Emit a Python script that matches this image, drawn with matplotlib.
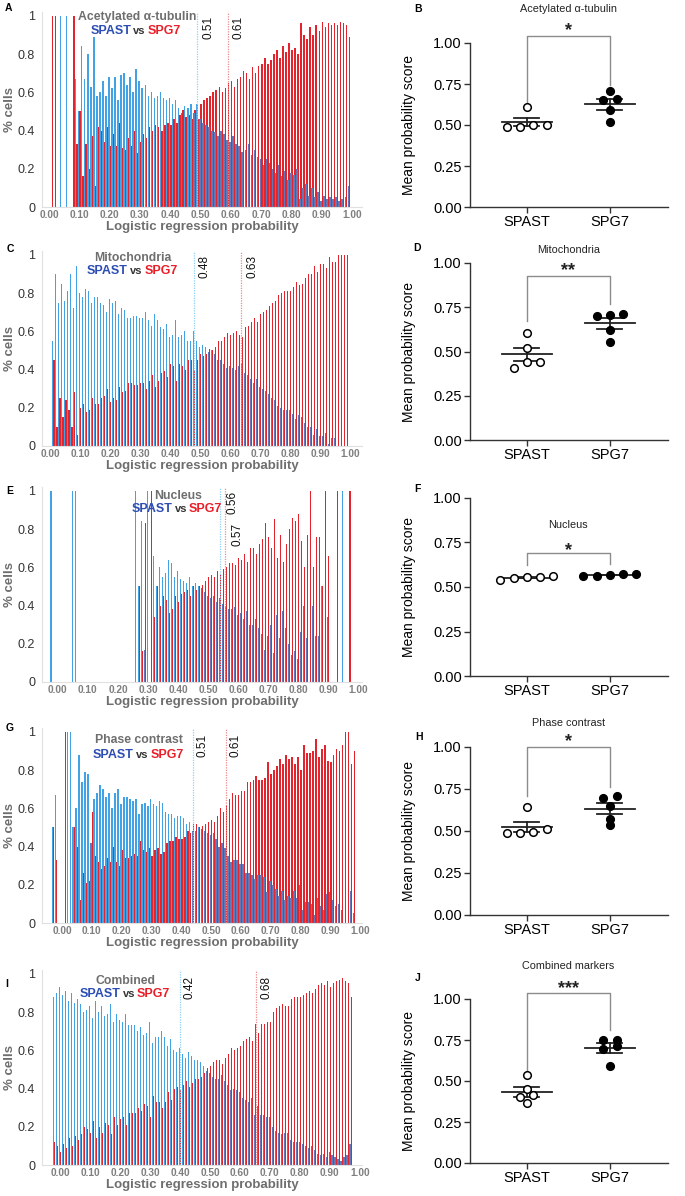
import matplotlib.pyplot as plt
import numpy as np

plt.rcParams['font.family'] = ['Liberation Sans', 'DejaVu Sans']

# bin centres of the probability histograms (-0.03 ... 0.99)
prob_bins = np.arange(-3, 100) / 100

# ---- fraction of cells per bin, SPAST (blue) and SPG7 (red) ----
acetyl_spast = ([0, 0, 0, 0, 0, 0, 0, 1, 0, 1, 0, 0] +
                [.67, .50, .84, .67, .80, .63, .89, .58, .60, .66,
                 .58, .68, .62, .68, .56, .69, .70, .64, .68, .60,
                 .72, .66, .62, .64, .58, .60, .57, .58, .60, .57,
                 .56, .57, .54, .56, .52, .49, .53, .52, .54, .49,
                 .54, .46, .44, .43, .42, .40, .39, .37, .40, .38,
                 .35, .34, .37, .33, .32, .29, .30, .33, .27, .30,
                 .26, .25, .22, .25, .23, .20, .18, .22, .16, .19,
                 .14, .18, .17, .20, .04, .10, .12, .06, .10, .05,
                 .08, .03, .06, .04, .05, .04, .05, .03, .04, .05,
                 .11])
acetyl_spg7 = ([0, 0, 0, 0, 1, 1, 0, 0, 0, 0, 0, 1] +
               [.33, .50, .16, .33, .20, .37, .11, .42, .40, .34,
                .42, .32, .38, .32, .44, .31, .30, .36, .32, .40,
                .28, .34, .38, .36, .42, .40, .43, .42, .40, .43,
                .44, .43, .46, .44, .48, .51, .47, .48, .46, .51,
                .46, .54, .56, .57, .58, .60, .61, .63, .60, .62,
                .65, .66, .63, .67, .68, .71, .70, .67, .73, .70,
                .74, .75, .78, .75, .77, .80, .82, .78, .84, .81,
                .86, .82, .83, .80, .96, .90, .88, .94, .90, .95,
                .92, .97, .94, .96, .95, .96, .95, .97, .96, .95,
                .89])

mito_spast = ([0, 0, 0, 0] +
              [.55, .90, .75, .85, .76, .81, .90, .72, .94, .80,
               .78, .82, .81, .75, .78, .78, .75, .74, .70, .77,
               .75, .76, .69, .72, .71, .67, .67, .68, .68, .67,
               .67, .70, .66, .63, .69, .66, .62, .61, .64, .57,
               .58, .66, .57, .58, .60, .55, .55, .60, .55, .52,
               .53, .52, .49, .50, .48, .45, .45, .43, .41, .42,
               .41, .40, .42, .43, .38, .37, .35, .33, .35, .31,
               .30, .29, .27, .25, .24, .21, .20, .19, .19, .19,
               .17, .14, .16, .15, .12, .10, .10, .06, .09, .05,
               .05, .07, .01, .04, .04, 0, 0, 0, 0])
mito_spg7 = ([0, 0, 0, 0] +
             [.45, .10, .25, .15, .24, .19, .10, .28, .06, .20,
              .22, .18, .19, .25, .22, .22, .25, .26, .30, .23,
              .25, .24, .31, .28, .29, .33, .33, .32, .32, .33,
              .33, .30, .34, .37, .31, .34, .38, .39, .36, .43,
              .42, .34, .43, .42, .40, .45, .45, .40, .45, .48,
              .47, .48, .51, .50, .52, .55, .55, .57, .59, .58,
              .59, .60, .58, .57, .62, .63, .65, .67, .65, .69,
              .70, .71, .73, .75, .76, .79, .80, .81, .81, .81,
              .83, .86, .84, .85, .88, .90, .90, .94, .91, .95,
              .95, .93, .99, .96, .96, 1, 1, 1, 1])

nucleus_spast = ([0, 1, 0, 0, 0, 0, 0, 0, 1, 1] + [0] * 19 +
                 [1, .5, .84, .17, 1, 0] +
                 [.66, .50, .60, .55, .57, .64, .62, .55, .58, .54,
                  .53, .52, .55, .50, .52, .50, .49, .47, .45, .44,
                  .45, .42, .44, .41, .40, .38, .38, .39, .35, .36,
                  .33, .37, .30, .30, .33, .28, .25, .17, .24, .30,
                  .15, .35, .23, .37, .28, .20, .14, .16, .12, .26,
                  .40, .23, 0, .40, .24, .24, .50, 0, .34] +
                 [0, 0, 0, 0, 1, 0, 0, 0, 0])
nucleus_spg7 = ([0] * 10 + [0] * 19 +
                [0, .5, .16, .83, 0, 1] +
                [.34, .50, .40, .45, .43, .36, .38, .45, .42, .46,
                 .47, .48, .45, .50, .48, .50, .51, .53, .55, .56,
                 .55, .58, .56, .59, .60, .62, .62, .61, .65, .64,
                 .67, .63, .70, .70, .67, .72, .75, .83, .76, .70,
                 .85, .65, .77, .63, .72, .80, .86, .84, .88, .74,
                 .60, .77, 1, .60, .76, .76, .50, 1, .66] +
                [0, 0, 1, 0, 0, 0, 1, 0, 0])

phase_spast = ([.5, .67, 0, 0, 0, 1, 1] +
               [.50, .60, .88, .74, .79, .78, .42, .65, .68, .72,
                .70, .66, .68, .60, .68, .70, .62, .66, .66, .65,
                .64, .65, .57, .62, .63, .61, .65, .62, .61, .64,
                .63, .58, .57, .57, .55, .56, .56, .55, .52, .53,
                .48, .48, .50, .49, .48, .47, .46, .47, .44, .40,
                .42, .39, .35, .32, .33, .33, .31, .31, .26, .26,
                .25, .23, .25, .25, .24, .16, .22, .20, .18, .14,
                .17, .12, .14, .13, .17, .13, .20, .07, .11, .11,
                .10, .04, .13, .09, .07, .15, .16, .12, .09, .10,
                .07, 0, 0, .17, .05] + [0])
phase_spg7 = ([.5, .33, 0, 0, 1, 0, 0] +
              [.50, .40, .12, .26, .21, .22, .58, .35, .32, .28,
               .30, .34, .32, .40, .32, .30, .38, .34, .34, .35,
               .36, .35, .43, .38, .37, .39, .35, .38, .39, .36,
               .37, .42, .43, .43, .45, .44, .44, .45, .48, .47,
               .52, .52, .50, .51, .52, .53, .54, .53, .56, .60,
               .58, .61, .65, .68, .67, .67, .69, .69, .74, .74,
               .75, .77, .75, .75, .76, .84, .78, .80, .82, .86,
               .83, .88, .86, .87, .83, .87, .80, .93, .89, .89,
               .90, .96, .87, .91, .93, .85, .84, .88, .91, .90,
               .93, 1, 1, .83, .90] + [0])

combined_spast = ([0] +
                  [.88, .90, .93, .89, .91, .86, .90, .85, .87, .84,
                   .80, .81, .83, .77, .86, .80, .83, .78, .79, .84,
                   .75, .79, .76, .75, .79, .73, .73, .73, .70, .72,
                   .68, .69, .75, .64, .67, .67, .70, .67, .62, .66,
                   .60, .59, .61, .58, .56, .59, .57, .55, .55, .54,
                   .52, .49, .48, .46, .45, .45, .47, .44, .42, .39,
                   .40, .39, .38, .35, .34, .33, .35, .26, .31, .26,
                   .26, .25, .25, .20, .18, .17, .16, .17, .17, .13,
                   .12, .12, .12, .11, .10, .09, .10, .08, .06, .05,
                   .06, .04, .07, .05, .04, .03, .02, .04, .05] +
                  [.11, 0, 0])
combined_spg7 = ([0] +
                 [.12, .10, .07, .11, .09, .14, .10, .15, .13, .16,
                  .20, .19, .17, .23, .14, .20, .17, .22, .21, .16,
                  .25, .21, .24, .25, .21, .27, .27, .27, .30, .28,
                  .32, .31, .25, .36, .33, .33, .30, .33, .38, .34,
                  .40, .41, .39, .42, .44, .41, .43, .45, .45, .46,
                  .48, .51, .52, .54, .55, .55, .53, .56, .58, .61,
                  .60, .61, .62, .65, .66, .67, .65, .74, .69, .74,
                  .74, .75, .75, .80, .82, .83, .84, .83, .83, .87,
                  .88, .88, .88, .89, .90, .91, .90, .92, .94, .95,
                  .94, .96, .93, .95, .96, .97, .98, .96, .95] +
                 [.88, 0, 0])

# thresholds drawn on the histograms: (line position, printed label)
acetyl_cuts = [(0.49, '0.51'), (0.59, '0.61')]
mito_cuts = [(0.48, '0.48'), (0.635, '0.63')]
nucleus_cuts = [(0.54, '0.56'), (0.558, '0.57')]
phase_cuts = [(0.44, '0.51'), (0.55, '0.61')]
combined_cuts = [(0.40, '0.42'), (0.655, '0.68')]

# ---- mean probability score per replicate ----
groups = ['SPAST', 'SPG7']
acetyl_score_spast = [0.61, 0.49, 0.50, 0.49, 0.50]
acetyl_score_spg7 = [0.71, 0.65, 0.66, 0.59, 0.52]
mito_score_spast = [0.607, 0.519, 0.443, 0.409, 0.440]
mito_score_spg7 = [0.708, 0.711, 0.702, 0.623, 0.553]
nucleus_score_spast = [0.549, 0.560, 0.556, 0.556, 0.539]
nucleus_score_spg7 = [0.564, 0.575, 0.568, 0.571, 0.560]
phase_score_spast = [0.640, 0.487, 0.510, 0.487, 0.495]
phase_score_spg7 = [0.709, 0.697, 0.650, 0.574, 0.535]
combined_score_spast = [0.537, 0.417, 0.449, 0.366, 0.402]
combined_score_spg7 = [0.748, 0.748, 0.715, 0.697, 0.593]

W, H = 685, 1196
fig = plt.figure(figsize=(W / 100, H / 100), dpi=100)

C_BLUE = '#42a2e6'
C_BLUE_DARK = '#6079ba'
C_RED = '#e4242d'
GREY = '#6e6e6e'


def px_axes(x0, y_top, x1, y_bot):
    return fig.add_axes([x0 / W, 1 - y_bot / H, (x1 - x0) / W, (y_bot - y_top) / H])


def draw_hist(ax, spast, spg7, cuts, xlim, name, name_pos, labels_pos):
    spast = np.array(spast, dtype=float)
    spg7 = np.array(spg7, dtype=float)
    blue_cols = np.where(spast < spg7, C_BLUE_DARK, C_BLUE)
    ax.bar(prob_bins + 0.0021, spg7, width=0.0052, color=C_RED, linewidth=0)
    ax.bar(prob_bins - 0.0021, spast, width=0.0052, color=blue_cols, linewidth=0)
    (cb, lb), (cr, lr) = cuts
    ax.axvline(cb, color='#8fd0f5', lw=0.9, ls=(0, (1, 1)))
    ax.axvline(cr, color='#f08a8a', lw=0.9, ls=(0, (1, 1)))
    for (x, y), lab in zip(labels_pos, [lb, lr]):
        ax.text(x, y, lab, rotation=90, ha='left', va='top', fontsize=8.5, color='#111')
    nx, ny1, ny2 = name_pos
    ax.text(nx, ny1, name, ha='center', va='center', fontsize=8.8, fontweight='bold', color=GREY)
    ax.annotate('vs', (nx, ny2), xytext=(2, 0), textcoords='offset points',
                ha='center', va='center', fontsize=8, fontweight='bold', color='#333')
    ax.annotate('SPAST', (nx, ny2), xytext=(-4, 0), textcoords='offset points',
                ha='right', va='center', fontsize=9, fontweight='bold', color='#2c4db3')
    ax.annotate('SPG7', (nx, ny2), xytext=(8, 0), textcoords='offset points',
                ha='left', va='center', fontsize=9, fontweight='bold', color='#e8202a')
    ax.set_xlim(*xlim)
    ax.set_ylim(0, 1.02)
    ax.set_xticks(np.arange(0, 1.01, 0.1))
    ax.set_xticklabels([f'{v:.2f}' for v in np.arange(0, 1.01, 0.1)],
                       fontsize=7.3, fontweight='bold', color='#7f7f7f')
    ax.set_yticks([0, 0.2, 0.4, 0.6, 0.8, 1])
    ax.set_yticklabels(['0', '0.2', '0.4', '0.6', '0.8', '1'], fontsize=9, color='#333')
    ax.tick_params(length=0, pad=2)
    ax.tick_params(axis='y', pad=5)
    for s in ['top', 'right']:
        ax.spines[s].set_visible(False)
    for s in ['left', 'bottom']:
        ax.spines[s].set_color('#e0e0e0')
        ax.spines[s].set_linewidth(0.8)
    ax.set_xlabel('Logistic regression probability', fontsize=9.5, fontweight='bold',
                  color=GREY, labelpad=1)
    ax.set_ylabel('% cells', fontsize=9.5, fontweight='bold', color=GREY, labelpad=1)


def swarm(values, step=0.16, tol=0.035):
    values = np.asarray(values)
    order = np.argsort(values)
    offs = np.zeros(len(values))
    rows, cur = [], [order[0]]
    for i in order[1:]:
        if values[i] - values[cur[0]] <= tol:
            cur.append(i)
        else:
            rows.append(cur)
            cur = [i]
    rows.append(cur)
    for r in rows:
        n = len(r)
        for j, i in enumerate(r):
            offs[i] = (j - (n - 1) / 2) * step
    return offs


def draw_dots(ax, spast, spg7, title, title_y, star, star_y, bracket):
    for i, (vals, fc) in enumerate([(spast, 'white'), (spg7, 'black')]):
        vals = np.asarray(vals)
        m = vals.mean()
        sem = vals.std(ddof=1) / np.sqrt(len(vals))
        ax.scatter(i + swarm(vals), vals, s=30, facecolor=fc, edgecolor='black',
                   linewidth=1.1, zorder=3, clip_on=False)
        ax.plot([i - 0.3, i + 0.3], [m, m], color='#222', lw=1.3, zorder=2)
        ax.plot([i, i], [m - sem, m + sem], color='#222', lw=1.3, zorder=2)
        for y in (m - sem, m + sem):
            ax.plot([i - 0.15, i + 0.15], [y, y], color='#222', lw=1.3, zorder=2)
    top, left_leg, right_leg = bracket
    ax.plot([0, 0, 1, 1], [left_leg, top, top, right_leg], color='#8c8c8c', lw=1,
            clip_on=False)
    ax.annotate(star, (0.5, star_y), xytext=(0, -7.5), textcoords='offset points',
                ha='center', va='baseline', fontsize=13, fontweight='bold', color='#222',
                annotation_clip=False)
    ax.text(0.5, title_y, title, ha='center', va='center', fontsize=7.8, color='#222',
            clip_on=False)
    ax.set_xlim(-0.684, 1.7)
    ax.set_ylim(0, 1)
    ax.set_xticks([0, 1])
    ax.set_xticklabels(groups, fontsize=10.5)
    ax.set_yticks([0, 0.25, 0.5, 0.75, 1])
    ax.set_yticklabels(['0.00', '0.25', '0.50', '0.75', '1.00'], fontsize=10.5)
    ax.tick_params(length=4, width=1, color='#333', pad=2)
    for s in ['top', 'right']:
        ax.spines[s].set_visible(False)
    for s in ['left', 'bottom']:
        ax.spines[s].set_color('#333')
        ax.spines[s].set_linewidth(1)
    ax.set_ylabel('Mean probability score', fontsize=10, labelpad=12)


hist_rows = [
    (acetyl_spast, acetyl_spg7, acetyl_cuts, (-0.023, 1.033), 'Acetylated α-tubulin',
     (0.29, 0.995, 0.92), [(0.505, 1.0), (0.605, 1.0)], 207),
    (mito_spast, mito_spg7, mito_cuts, (-0.027, 1.04), 'Mitochondria',
     (0.277, 0.985, 0.915), [(0.495, 1.0), (0.655, 1.0)], 446),
    (nucleus_spast, nucleus_spg7, nucleus_cuts, (-0.053, 1.013), 'Nucleus',
     (0.40, 0.975, 0.905), [(0.562, 1.0), (0.578, 0.83)], 682),
    (phase_spast, phase_spg7, phase_cuts, (-0.067, 1.007), 'Phase contrast',
     (0.26, 0.955, 0.88), [(0.452, 0.99), (0.563, 0.99)], 923),
    (combined_spast, combined_spg7, combined_cuts, (-0.06, 1.007), 'Combined',
     (0.22, 0.965, 0.895), [(0.412, 0.99), (0.668, 0.99)], 1165),
]
for spast, spg7, cuts, xlim, name, npos, lpos, base in hist_rows:
    ax = px_axes(42, base - 195, 362, base)
    draw_hist(ax, spast, spg7, cuts, xlim, name, npos, lpos)

dot_rows = [
    (acetyl_score_spast, acetyl_score_spg7, 'Acetylated α-tubulin', 1.21, '*', 1.11,
     (1.04, 0.64, 0.745), 43, 207),
    (mito_score_spast, mito_score_spg7, 'Mitochondria', 1.075, '**', 0.99,
     (0.925, 0.67, 0.77), 263, 440),
    (nucleus_score_spast, nucleus_score_spg7, 'Nucleus', 0.846, '*', 0.737,
     (0.69, 0.625, 0.63), 498, 676),
    (phase_score_spast, phase_score_spg7, 'Phase contrast', 1.145, '*', 1.065,
     (1.0, 0.71, 0.76), 747, 915),
    (combined_score_spast, combined_score_spg7, 'Combined markers', 1.2, '***', 1.098,
     (1.037, 0.569, 0.809), 999, 1163),
]
for spast, spg7, title, ty, star, sy, br, ytop, ybot in dot_rows:
    ax = px_axes(470, ytop, 668, ybot)
    draw_dots(ax, spast, spg7, title, ty, star, sy, br)

letters = [('A', 8, 8), ('B', 418, 9), ('C', 10, 249), ('D', 417, 248), ('E', 10, 491),
           ('F', 417, 489), ('G', 10, 728), ('H', 419, 737), ('I', 7, 984), ('J', 418, 978)]
for t, x, y in letters:
    fig.text(x / W, 1 - y / H, t, ha='center', va='center', fontsize=7.5, fontweight='bold')

fig.savefig('out.png', dpi=100)
